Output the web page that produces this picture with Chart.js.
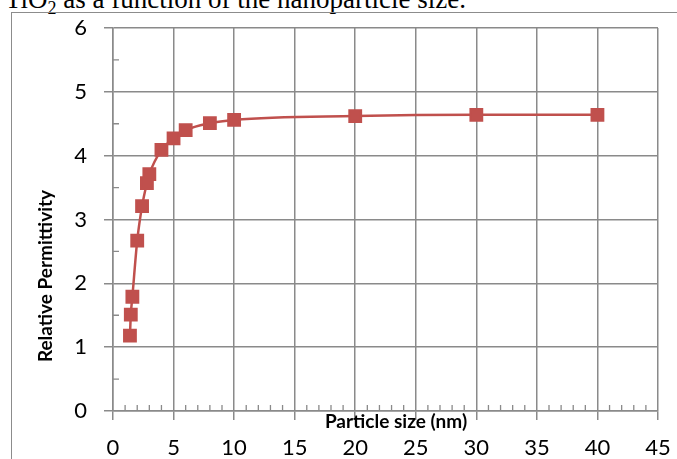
<!DOCTYPE html>
<html>
<head>
<meta charset="utf-8">
<script src="https://cdn.jsdelivr.net/npm/chart.js@4"></script>
<style>
  html, body { margin: 0; padding: 0; background: #fff; overflow: hidden; }
  #wrap { position: relative; width: 677px; height: 459px; overflow: hidden; }
  #frame { position: absolute; left: 11px; top: 12px; width: 700px; height: 500px;
           border-left: 1.5px solid #8c8c8c; border-top: 1.5px solid #8c8c8c; }
  #caption { position: absolute; left: 5px; top: -16px; font: 27px "Liberation Serif", "Times New Roman", serif;
             color: #000; white-space: nowrap; line-height: 30px; }
  #chart { position: absolute; left: 0; top: 0; }
</style>
</head>
<body>
<div id="wrap">
  <div id="caption">TiO<sub style="font-size:18px; line-height:0">2</sub> as a function of the nanoparticle size.</div>
  <div id="frame"></div>
  <canvas id="chart" width="677" height="459"></canvas>
</div>
<script>
// 数据
const particleSize = [1.4, 1.47, 1.6, 2.0, 2.4, 2.8, 3.0, 4.0, 5.0, 6.0, 8.0, 10.0, 20.0, 30.0, 40.0];
const permittivity = [1.18, 1.51, 1.79, 2.67, 3.21, 3.57, 3.71, 4.09, 4.27, 4.40, 4.51, 4.56, 4.62, 4.64, 4.64];
const xTicks = [0, 5, 10, 15, 20, 25, 30, 35, 40, 45];
const yTicks = [0, 1, 2, 3, 4, 5, 6];
const xTitle = 'Particle size (nm)';
const yTitle = 'Relative Permittivity';

const gridColor = '#8a8a8a';
const red = '#c0504d';

// 次刻度 + 坐标轴标题
const extras = {
    id: 'extras',
    afterDraw(chart) {
        const { ctx, chartArea: a, scales: { x, y } } = chart;
        ctx.save();
        ctx.strokeStyle = gridColor;
        ctx.lineWidth = 1.3;
        ctx.beginPath();
        for (let v = 1; v < 45; v++) {
            if (v % 5 === 0) continue;
            const px = x.getPixelForValue(v);
            ctx.moveTo(px, a.bottom);
            ctx.lineTo(px, a.bottom - 6);
        }
        for (let v = 0.5; v < 6; v += 1) {
            const py = y.getPixelForValue(v);
            ctx.moveTo(a.left, py);
            ctx.lineTo(a.left + 6, py);
        }
        ctx.stroke();

        ctx.fillStyle = '#000';
        ctx.font = 'bold 19px Lato';
        ctx.textAlign = 'center';
        ctx.textBaseline = 'middle';
        ctx.fillText(xTitle, 396, a.bottom + 11);

        ctx.translate(46, 276);
        ctx.rotate(-Math.PI / 2);
        ctx.fillText(yTitle, 0, 0);
        ctx.restore();
    }
};

new Chart(document.getElementById('chart').getContext('2d'), {
    type: 'scatter',
    data: {
        datasets: [{
            data: particleSize.map((s, i) => ({ x: s, y: permittivity[i] })),
            showLine: true,
            borderColor: red,
            backgroundColor: red,
            borderWidth: 2.5,
            cubicInterpolationMode: 'monotone',
            pointStyle: 'rect',
            pointRadius: 8,
            pointHoverRadius: 8
        }]
    },
    options: {
        responsive: false,
        animation: false,
        layout: { padding: { top: 28, right: 19, left: 0, bottom: 0 } },
        plugins: { legend: { display: false }, tooltip: { enabled: false } },
        scales: {
            x: {
                type: 'linear',
                min: 0, max: 45,
                afterBuildTicks: s => { s.ticks = xTicks.map(v => ({ value: v })); },
                afterFit: s => { s.height = 48; s.paddingLeft = 0; s.paddingRight = 0; },
                ticks: { color: '#000', font: { family: 'Lato', size: 22 }, padding: 15, maxRotation: 0 },
                grid: { color: gridColor, lineWidth: 1.5, tickLength: 9 },
                border: { color: gridColor, width: 1.5 }
            },
            y: {
                type: 'linear',
                min: 0, max: 6,
                afterBuildTicks: s => { s.ticks = yTicks.map(v => ({ value: v })); },
                afterFit: s => { s.width = 113; s.paddingTop = 0; s.paddingBottom = 0; },
                ticks: { color: '#000', font: { family: 'Lato', size: 22 }, padding: 17 },
                grid: { color: gridColor, lineWidth: 1.5, tickLength: 9 },
                border: { color: gridColor, width: 1.5 }
            }
        }
    },
    plugins: [extras]
});
</script>
</body>
</html>
